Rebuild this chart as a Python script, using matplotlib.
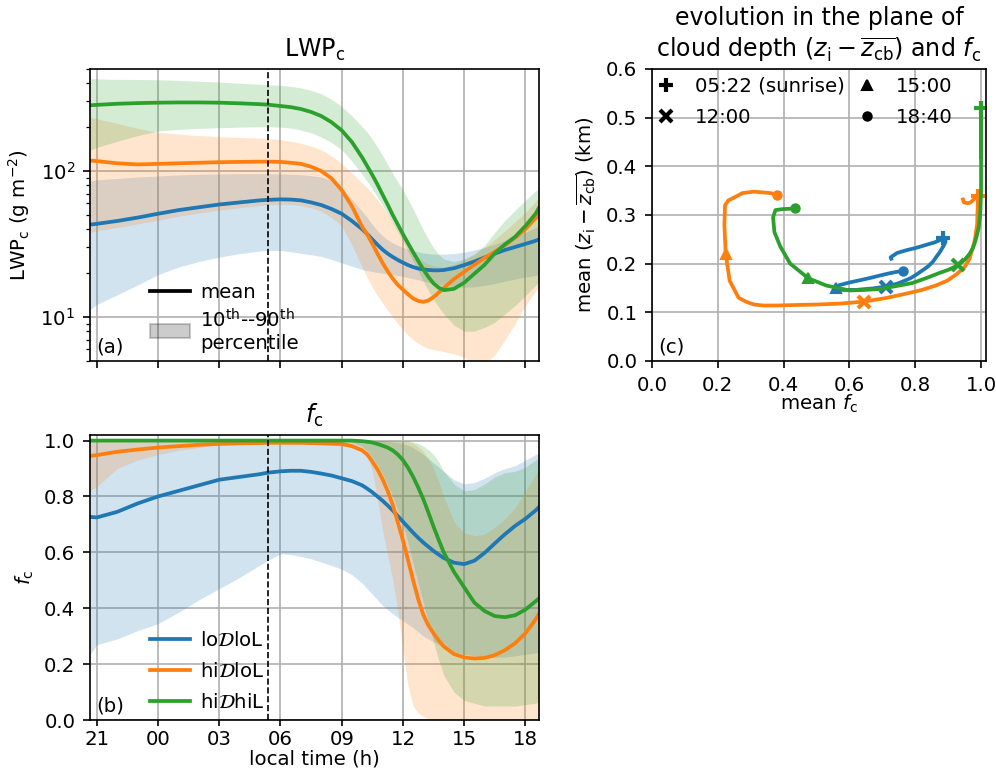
import numpy as np
import matplotlib
matplotlib.use('Agg')
import matplotlib.pyplot as plt
from matplotlib.lines import Line2D
from matplotlib.patches import Patch

plt.rcParams['font.size'] = 9.5
plt.rcParams['font.family'] = 'DejaVu Sans'

# local clock times of the samples (20:40 .. 18:40 next day)
clock = ['20:40', '21:00', '22:00', '23:00', '00:00', '01:00', '02:00', '03:00', '04:00', '05:00',
         '05:22', '06:00', '06:30', '07:00', '07:30', '08:00', '08:30', '09:00', '09:30', '10:00',
         '10:15', '10:30', '10:45', '11:00', '11:15', '11:30', '11:45', '12:00', '12:15', '12:30',
         '12:45', '13:00', '13:15', '13:30', '13:45', '14:00', '14:30', '15:00', '15:30', '16:00',
         '16:30', '17:00', '17:30', '18:00', '18:30', '18:40']
labels = ['lo$\\mathcal{D}$loL', 'hi$\\mathcal{D}$loL', 'hi$\\mathcal{D}$hiL']
colors = ['tab:blue', 'tab:orange', 'tab:green']
sunrise = '05:22'
marker_times = ['05:22', '12:00', '15:00', '18:40']
marker_labels = ['05:22 (sunrise)', '12:00', '15:00', '18:40']
marker_styles = ['+', 'x', '^', 'o']

# LWP_c (g m-2): mean, 10th and 90th percentile
lwp_mean_lo = [43, 43.5, 45.5, 48, 51, 54, 56.5, 59, 61, 63, 63.5, 64, 63.8, 63, 61, 58.5, 55, 51,
               45.5, 40, 37, 34, 31.3, 29, 27.2, 25.8, 24.6, 23.6, 22.7, 22, 21.5, 21.2, 21, 20.9,
               20.9, 21, 21.6, 22.7, 24, 25.6, 27.2, 28.8, 30.2, 31.7, 33.3, 34]
lwp_p10_lo = [11.2, 12.2, 14.2, 16.6, 19.5, 22, 24, 25.7, 27.2, 28.3, 28.6, 28.6, 28, 27.3, 26.7, 26,
              24.8, 23.5, 22.3, 21.2, 20.8, 20.5, 20.2, 20, 19.7, 19.5, 19.2, 19, 18.6, 18.3, 18,
              17.6, 17.3, 17, 16.7, 16.5, 16.2, 16, 16.1, 16.5, 17, 17.6, 18.2, 18.8, 19.3, 19.5]
lwp_p90_lo = [86, 87, 89, 91, 92.5, 94, 95, 95.5, 96, 96, 96, 95.5, 95, 94.5, 93, 91, 86, 76, 64, 53,
              48, 43, 39, 36, 33.8, 32.2, 31, 30, 29.2, 28.5, 28, 27.5, 27.2, 27, 27, 27, 27.2, 27.8,
              28.8, 30, 31.5, 33.5, 35.5, 38, 41, 43]
lwp_mean_hilo = [118, 117, 113, 111, 112, 113, 114, 115, 115.5, 116, 116, 115.5, 114, 112, 107, 100,
                 89, 74, 57.5, 41.5, 36.8, 31.8, 27.2, 23.5, 20.6, 18.3, 16.6, 15.4, 14.3, 13.4, 12.9,
                 12.7, 13, 13.7, 14.7, 15.8, 18.2, 20.4, 22.8, 25.4, 28, 31, 35, 40, 47.5, 51]
lwp_p10_hilo = [38, 39, 41, 43.5, 46, 49, 51.5, 54, 56, 58, 58.5, 59, 58.8, 58, 56, 53, 48, 42, 31,
                22, 18.7, 16, 14, 12.5, 11.1, 10, 9, 8.2, 7.5, 7, 6.6, 6.3, 6.1, 6, 5.9, 5.8, 5.6,
                5.3, 4.6, 4.8, 5.5, 7, 9, 12, 15, 16]
lwp_p90_hilo = [234, 228, 212, 196, 184, 179, 175, 172, 170, 168, 167, 164, 160, 155, 148, 140, 127,
                112, 97, 83, 76.5, 70, 63.5, 57, 51, 45, 40, 35, 31.3, 28, 25.8, 24, 23.1, 22.5, 22.2,
                22, 23, 24.5, 27, 30, 34, 39, 45, 52, 62, 66]
lwp_mean_hihi = [282, 284, 289, 292, 294, 295, 295, 294, 291, 287, 285, 279, 274, 266, 254, 238, 216,
                 190, 158, 124, 108, 94, 81, 69, 59, 50, 43, 37, 32, 27.8, 24.2, 21.2, 18.8, 17, 15.9,
                 15.3, 15.6, 17.2, 19.8, 22.8, 27.3, 31.5, 35.5, 42, 51, 56]
lwp_p10_hihi = [139, 145, 160, 175, 188, 193, 196, 198, 200, 201, 201, 200, 197, 191, 183, 171, 157,
                140, 117, 95, 85, 75.5, 66.5, 58.3, 51, 44.3, 38.3, 33, 28.3, 24.2, 20.6, 17.6, 15.1,
                13.2, 11.7, 10.5, 8.8, 8, 8, 8.5, 9.2, 10.5, 12, 14, 16.5, 17.5]
lwp_p90_hihi = [429, 428, 425, 424, 422, 418, 412, 407, 400, 393, 390, 386, 380, 371, 357, 338, 310,
                277, 239, 202, 184, 165, 146, 128, 111, 96, 84, 74, 64, 55, 46.5, 39.5, 34, 29.8, 26.8,
                25, 24, 25, 27, 31, 38, 46, 54, 63, 73, 76]

# cloud fraction f_c: mean, 10th and 90th percentile
fc_mean_lo = [0.727, 0.725, 0.745, 0.775, 0.80, 0.82, 0.84, 0.86, 0.87, 0.88, 0.885, 0.89, 0.892,
              0.892, 0.888, 0.882, 0.875, 0.865, 0.855, 0.84, 0.828, 0.815, 0.80, 0.785, 0.768, 0.75,
              0.73, 0.71, 0.69, 0.67, 0.652, 0.635, 0.62, 0.605, 0.592, 0.58, 0.563, 0.558, 0.57,
              0.598, 0.632, 0.665, 0.695, 0.72, 0.75, 0.762]
fc_p10_lo = [0.233, 0.27, 0.29, 0.32, 0.345, 0.385, 0.43, 0.47, 0.51, 0.555, 0.57, 0.595, 0.592,
             0.585, 0.577, 0.565, 0.553, 0.54, 0.52, 0.49, 0.47, 0.45, 0.43, 0.41, 0.395, 0.38, 0.367,
             0.355, 0.342, 0.33, 0.315, 0.3, 0.29, 0.28, 0.27, 0.26, 0.245, 0.235, 0.23, 0.225,
             0.225, 0.225, 0.23, 0.235, 0.24, 0.24]
fc_p90_lo = [0.995, 1, 1, 1, 1, 1, 1, 1, 1, 1, 1, 1, 1, 1, 1, 1, 1, 1, 1, 1, 1, 1, 1, 1, 0.998, 0.995,
             0.993, 0.99, 0.983, 0.975, 0.963, 0.95, 0.935, 0.92, 0.905, 0.89, 0.86, 0.845, 0.85,
             0.865, 0.885, 0.9, 0.91, 0.93, 0.95, 0.955]
fc_mean_hilo = [0.945, 0.948, 0.96, 0.968, 0.975, 0.98, 0.985, 0.988, 0.99, 0.991, 0.992, 0.992,
                0.992, 0.992, 0.991, 0.99, 0.989, 0.988, 0.98, 0.965, 0.95, 0.925, 0.897, 0.862, 0.82,
                0.77, 0.708, 0.643, 0.572, 0.50, 0.432, 0.376, 0.338, 0.31, 0.285, 0.263, 0.236,
                0.224, 0.22, 0.222, 0.232, 0.25, 0.275, 0.31, 0.36, 0.38]
fc_p10_hilo = [0.82, 0.835, 0.9, 0.93, 0.95, 0.965, 0.975, 0.985, 0.99, 0.99, 0.99, 0.99, 0.99, 0.99,
               0.988, 0.985, 0.983, 0.98, 0.977, 0.97, 0.95, 0.89, 0.79, 0.68, 0.59, 0.5, 0.39, 0.25,
               0.12, 0.05, 0.025, 0.012, 0.005, 0, 0, 0, 0, 0, 0, 0, 0, 0, 0, 0, 0, 0]
fc_p90_hilo = [1, 1, 1, 1, 1, 1, 1, 1, 1, 1, 1, 1, 1, 1, 1, 1, 1, 1, 1, 1, 1, 1, 1, 1, 1, 1, 1,
               0.998, 0.995, 0.99, 0.978, 0.96, 0.935, 0.9, 0.855, 0.8, 0.71, 0.67, 0.66, 0.665,
               0.69, 0.72, 0.76, 0.82, 0.88, 0.9]
fc_mean_hihi = [1, 1, 1, 1, 1, 1, 1, 1, 1, 1, 1, 1, 1, 1, 1, 1, 1, 1, 1, 0.998, 0.996, 0.993, 0.988,
                0.982, 0.975, 0.965, 0.95, 0.93, 0.903, 0.87, 0.832, 0.79, 0.742, 0.692, 0.645, 0.6,
                0.53, 0.475, 0.42, 0.39, 0.372, 0.368, 0.375, 0.395, 0.425, 0.435]
fc_p10_hihi = [1, 1, 1, 1, 1, 1, 1, 1, 1, 1, 1, 1, 1, 1, 1, 1, 1, 1, 0.995, 0.98, 0.963, 0.94, 0.912,
               0.88, 0.842, 0.8, 0.753, 0.7, 0.635, 0.56, 0.49, 0.42, 0.35, 0.28, 0.215, 0.16, 0.1,
               0.07, 0.06, 0.05, 0.05, 0.05, 0.05, 0.055, 0.06, 0.065]
fc_p90_hihi = [1, 1, 1, 1, 1, 1, 1, 1, 1, 1, 1, 1, 1, 1, 1, 1, 1, 1, 1, 1, 1, 1, 1, 1, 1, 1, 1, 1, 1,
               0.995, 0.99, 0.98, 0.967, 0.95, 0.925, 0.89, 0.845, 0.82, 0.825, 0.845, 0.87, 0.885,
               0.89, 0.905, 0.93, 0.94]

# mean cloud depth z_i - z_cb (km)
depth_lo = [0.21, 0.213, 0.222, 0.228, 0.232, 0.236, 0.24, 0.244, 0.247, 0.25, 0.252, 0.252, 0.25,
            0.245, 0.239, 0.232, 0.224, 0.215, 0.205, 0.195, 0.189, 0.183, 0.176, 0.17, 0.165, 0.16,
            0.156, 0.153, 0.151, 0.149, 0.148, 0.147, 0.146, 0.146, 0.146, 0.146, 0.148, 0.15, 0.156,
            0.161, 0.166, 0.171, 0.176, 0.18, 0.184, 0.185]
depth_hilo = [0.332, 0.326, 0.324, 0.326, 0.33, 0.334, 0.337, 0.339, 0.34, 0.34, 0.34, 0.34, 0.339,
              0.335, 0.329, 0.32, 0.302, 0.28, 0.245, 0.21, 0.193, 0.178, 0.165, 0.155, 0.146, 0.138,
              0.129, 0.122, 0.118, 0.116, 0.115, 0.114, 0.114, 0.116, 0.122, 0.13, 0.165, 0.22, 0.28,
              0.32, 0.33, 0.336, 0.345, 0.348, 0.345, 0.342]
depth_hihi = [0.42, 0.425, 0.44, 0.455, 0.47, 0.48, 0.49, 0.5, 0.51, 0.517, 0.52, 0.518, 0.513, 0.505,
              0.487, 0.46, 0.427, 0.39, 0.35, 0.31, 0.292, 0.275, 0.26, 0.245, 0.232, 0.22, 0.208,
              0.197, 0.188, 0.18, 0.17, 0.16, 0.154, 0.148, 0.146, 0.145, 0.155, 0.17, 0.2, 0.235,
              0.265, 0.295, 0.31, 0.312, 0.313, 0.315]


def hours_since_21(s):
    h, m = s.split(':')
    v = int(h) + int(m) / 60
    return v - 21 if v >= 20 else v + 3


t = np.array([hours_since_21(c) for c in clock])
lwp = [(lwp_mean_lo, lwp_p10_lo, lwp_p90_lo),
       (lwp_mean_hilo, lwp_p10_hilo, lwp_p90_hilo),
       (lwp_mean_hihi, lwp_p10_hihi, lwp_p90_hihi)]
fc = [(fc_mean_lo, fc_p10_lo, fc_p90_lo),
      (fc_mean_hilo, fc_p10_hilo, fc_p90_hilo),
      (fc_mean_hihi, fc_p10_hihi, fc_p90_hihi)]
depth = [depth_lo, depth_hilo, depth_hihi]

fig = plt.figure(figsize=(6.64, 5.16), dpi=150)
W, H = 996, 774
ax_a = fig.add_axes([90 / W, 1 - 361 / H, 449 / W, 292 / H])
ax_b = fig.add_axes([90 / W, 1 - 720 / H, 449 / W, 285 / H], sharex=ax_a)
ax_c = fig.add_axes([652 / W, 1 - 361 / H, 334 / W, 292 / H])

for (m, lo, hi), (fm, flo, fhi), c, lab in zip(lwp, fc, colors, labels):
    ax_a.fill_between(t, lo, hi, color=c, alpha=0.2, lw=0)
    ax_a.plot(t, m, color=c, lw=1.8)
    ax_b.fill_between(t, flo, fhi, color=c, alpha=0.2, lw=0)
    ax_b.plot(t, fm, color=c, lw=1.8, label=lab)

for ax in (ax_a, ax_b):
    ax.axvline(hours_since_21(sunrise), color='k', ls='--', lw=0.8)
    ax.grid(True, color='#b0b0b0', lw=0.8)
    ax.set_axisbelow(True)

ax_a.set_yscale('log')
ax_a.set_ylim(5, 500)
ax_a.set_xlim(t[0], t[-1])
ax_a.set_title('LWP$_\\mathrm{c}$')
ax_a.set_ylabel('LWP$_\\mathrm{c}$ (g m$^{-2}$)')
ax_a.tick_params(labelbottom=False)
ax_a.text(0.015, 0.03, '(a)', transform=ax_a.transAxes)
ax_a.legend([Line2D([], [], color='k', lw=1.8),
             Patch(facecolor='k', edgecolor='k', alpha=0.2)],
            ['mean', '10$^\\mathrm{th}$--90$^\\mathrm{th}$\npercentile'],
            loc='lower left', bbox_to_anchor=(0.095, -0.035), frameon=False,
            handletextpad=0.5, labelspacing=0.3)

xt = [hours_since_21(s) for s in ['21:00', '00:00', '03:00', '06:00', '09:00', '12:00', '15:00', '18:00']]
ax_b.set_xticks(xt)
ax_b.set_xticklabels(['21', '00', '03', '06', '09', '12', '15', '18'])
ax_b.tick_params(axis='x', pad=2, length=3)
ax_b.set_ylim(0, 1.02)
ax_b.set_title('$f_\\mathrm{c}$')
ax_b.set_ylabel('$f_\\mathrm{c}$')
ax_b.set_xlabel('local time (h)', labelpad=0)
ax_b.text(0.015, 0.03, '(b)', transform=ax_b.transAxes)
ax_b.legend(loc='lower left', bbox_to_anchor=(0.095, -0.035), frameon=False,
            handletextpad=0.5, labelspacing=0.6)

# panel (c): trajectories in the (f_c, depth) plane
idx = [clock.index(s) for s in marker_times]
msize = {'+': 6.5, 'x': 5.5, '^': 5, 'o': 4}
mwidth = {'+': 2, 'x': 2, '^': 1, 'o': 1}
for (fm, _, _), d, c in zip(fc, depth, colors):
    ax_c.plot(fm, d, color=c, lw=1.8)
    for i, mk in zip(idx, marker_styles):
        ax_c.plot(fm[i], d[i], marker=mk, color=c, ms=msize[mk], mew=mwidth[mk])

handles = [Line2D([], [], ls='', marker=mk, color='k', ms=msize[mk], mew=mwidth[mk])
           for mk in marker_styles]
ax_c.legend(handles, marker_labels, ncol=2, loc='upper left', frameon=False,
            borderaxespad=0.0, handlelength=0.6, handletextpad=1.15, columnspacing=0.86,
            labelspacing=0.6)
ax_c.set_xlim(0, 1.015)
ax_c.set_ylim(0, 0.6)
ax_c.set_xticks([0, 0.2, 0.4, 0.6, 0.8, 1.0])
ax_c.grid(True, color='#b0b0b0', lw=0.8)
ax_c.set_axisbelow(True)
ax_c.set_xlabel('mean $f_\\mathrm{c}$', labelpad=-1)
ax_c.set_ylabel('mean ($z_\\mathrm{i} - \\overline{z_\\mathrm{cb}}$) (km)')
ax_c.set_title('evolution in the plane of\ncloud depth ($z_\\mathrm{i} - \\overline{z_\\mathrm{cb}}$) and $f_\\mathrm{c}$')
ax_c.text(0.02, 0.03, '(c)', transform=ax_c.transAxes)

fig.savefig('out.png', dpi=150)
